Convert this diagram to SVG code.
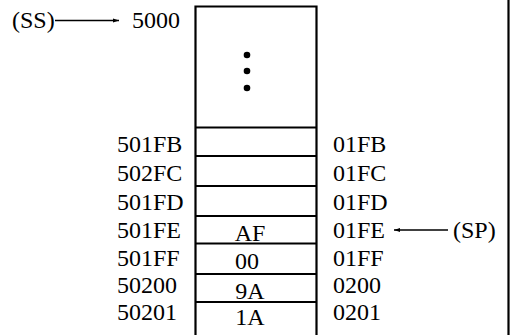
<svg xmlns="http://www.w3.org/2000/svg" width="512" height="335" viewBox="0 0 512 335">
<style>
text{font-family:'Liberation Serif','Times New Roman',serif;font-size:24px;fill:#000}
.v{text-anchor:middle}
.ln{stroke:#000;stroke-width:2.2;fill:none}
.cl{stroke:#000;stroke-width:1.5;fill:none}
</style>
<defs>
<marker id="ah" viewBox="0 0 10 10" refX="10" refY="5" markerWidth="6" markerHeight="6" markerUnits="userSpaceOnUse" orient="auto"><path d="M0,1.5 L10,5 L0,8.5 z" fill="#000"/></marker>
</defs>
<rect width="512" height="335" fill="#fff"/>
<g id="memory">
<path class="ln" d="M195.5,340 V6.5 H316.5 V340"/>
<line class="ln" x1="508.5" y1="0" x2="508.5" y2="335"/>
<line class="ln" x1="195" y1="127.5" x2="317" y2="127.5"/>
<line class="ln" x1="195" y1="156" x2="317" y2="156"/>
<line class="ln" x1="195" y1="186" x2="317" y2="186"/>
<line class="ln" x1="195" y1="216" x2="317" y2="216"/>
<line class="ln" x1="195" y1="243.5" x2="317" y2="243.5"/>
<line class="ln" x1="195" y1="274" x2="317" y2="274"/>
<line class="ln" x1="195" y1="302" x2="317" y2="302"/>
<circle cx="247" cy="55" r="3.3"/>
<circle cx="247" cy="71" r="3.3"/>
<circle cx="247" cy="88" r="3.3"/>
</g>
<g id="values">
<text class="v" x="250" y="240.7">AF</text>
<text class="v" x="247" y="268.5">00</text>
<text class="v" x="250" y="299">9A</text>
<text class="v" x="250" y="325">1A</text>
</g>
<g id="addr-left">
<text x="132" y="28">5000</text>
<text x="117" y="152">501FB</text>
<text x="117" y="181">502FC</text>
<text x="117" y="210">501FD</text>
<text x="117" y="237.5">501FE</text>
<text x="117" y="266">501FF</text>
<text x="117" y="292.5">50200</text>
<text x="117" y="320">50201</text>
</g>
<g id="addr-right">
<text x="333" y="152">01FB</text>
<text x="333" y="181">01FC</text>
<text x="333" y="210">01FD</text>
<text x="333" y="237.5">01FE</text>
<text x="333" y="266">01FF</text>
<text x="333" y="292.5">0200</text>
<text x="333" y="320">0201</text>
</g>
<g id="ss"><text x="12" y="28">(SS)</text></g>
<g id="sp"><text x="453" y="237.5">(SP)</text></g>
<g id="connectors">
<line class="cl" x1="55" y1="20.5" x2="119" y2="20.5" marker-end="url(#ah)"/>
<line class="cl" x1="448" y1="230" x2="394" y2="230" marker-end="url(#ah)"/>
</g>
</svg>
